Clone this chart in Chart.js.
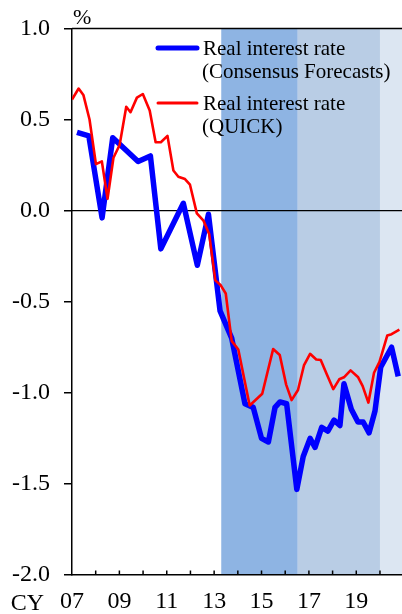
<!DOCTYPE html>
<html><head><meta charset="utf-8">
<script src="https://cdn.jsdelivr.net/npm/chart.js@4"></script>
<style>html,body{margin:0;padding:0;background:#fff;}#wrap{position:relative;width:402px;height:614px;}</style>
</head><body><div id="wrap"><canvas id="c" width="402" height="614"></canvas></div>
<script>
// Real interest rate (Consensus Forecasts) : decimal year / value (%)
const ccfYears  = [2007.21, 2007.71, 2008.27, 2008.72, 2009.79, 2010.31, 2010.75, 2011.70, 2012.29, 2012.76,
                   2013.25, 2013.74, 2014.30, 2014.65, 2015.00, 2015.29, 2015.57, 2015.78, 2016.06, 2016.49,
                   2016.76, 2017.05, 2017.26, 2017.54, 2017.80, 2018.06, 2018.31, 2018.48, 2018.79, 2019.07,
                   2019.29, 2019.54, 2019.79, 2020.03, 2020.49, 2020.77];
const ccfValues = [0.43, 0.41, -0.04, 0.40, 0.27, 0.30, -0.21, 0.04, -0.30, -0.02,
                   -0.55, -0.70, -1.06, -1.08, -1.25, -1.27, -1.08, -1.05, -1.06, -1.53,
                   -1.35, -1.25, -1.30, -1.19, -1.21, -1.15, -1.18, -0.95, -1.09, -1.16,
                   -1.16, -1.22, -1.10, -0.86, -0.75, -0.91];
// Real interest rate (QUICK)
const quickYears  = [2007.00, 2007.28, 2007.48, 2007.74, 2008.01, 2008.26, 2008.50, 2008.75, 2009.01, 2009.29,
                     2009.47, 2009.74, 2009.99, 2010.28, 2010.53, 2010.75, 2011.03, 2011.28, 2011.49, 2011.77,
                     2011.98, 2012.27, 2012.55, 2012.79, 2013.05, 2013.28, 2013.49, 2013.74, 2014.02, 2014.50,
                     2015.03, 2015.49, 2015.77, 2016.04, 2016.27, 2016.54, 2016.79, 2017.05, 2017.31, 2017.50,
                     2017.75, 2018.03, 2018.28, 2018.48, 2018.76, 2019.08, 2019.27, 2019.51, 2019.75, 2019.98,
                     2020.31, 2020.49, 2020.82];
const quickValues = [0.61, 0.67, 0.635, 0.50, 0.255, 0.27, 0.065, 0.29, 0.36, 0.57,
                     0.54, 0.62, 0.64, 0.55, 0.375, 0.375, 0.41, 0.22, 0.186, 0.173,
                     0.142, -0.015, -0.055, -0.128, -0.383, -0.41, -0.455, -0.715, -0.762, -1.07,
                     -1.005, -0.76, -0.793, -0.955, -1.04, -0.985, -0.85, -0.786, -0.817, -0.82,
                     -0.897, -0.98, -0.926, -0.915, -0.877, -0.915, -0.963, -1.054, -0.89, -0.83,
                     -0.685, -0.678, -0.653];
const xLabelYears = [2007, 2009, 2011, 2013, 2015, 2017, 2019];
const xLabels = ['07', '09', '11', '13', '15', '17', '19'];
const xPrefix = 'CY';
const yUnit = '%';
const bandStarts = [2013.30, 2016.53, 2020.00];
const bandEnds   = [2016.53, 2020.00, 2020.93];
const seriesNames = [['Real interest rate', '(Consensus Forecasts)'], ['Real interest rate', '(QUICK)']];

const FONT = "'Liberation Serif', 'Times New Roman', serif";
const bandColors = ['#8EB4E3', '#B9CDE5', '#DCE6F2'];

const deco = {
  id: 'deco',
  beforeDraw(chart) {
    const {ctx, chartArea: a, scales: {x}} = chart;
    ctx.save();
    bandStarts.forEach((s, i) => {
      const x0 = x.getPixelForValue(s), x1 = Math.min(x.getPixelForValue(bandEnds[i]), a.right);
      ctx.fillStyle = bandColors[i];
      ctx.fillRect(x0, a.top, x1 - x0, a.bottom - a.top);
    });
    ctx.restore();
  },
  beforeDatasetsDraw(chart) {
    const {ctx, chartArea: a, scales: {x, y}} = chart;
    ctx.save();
    ctx.strokeStyle = '#000';
    ctx.lineWidth = 1.3;
    const y0 = y.getPixelForValue(0);
    ctx.beginPath(); ctx.moveTo(a.left, y0); ctx.lineTo(a.right, y0); ctx.stroke();
    ctx.lineWidth = 1.5;
    const yt = y.getPixelForValue(1);
    ctx.beginPath(); ctx.moveTo(a.left, yt); ctx.lineTo(a.right, yt); ctx.stroke();
    x.ticks.forEach(t => {
      if (!Number.isInteger(t.value) || t.value <= x.min) return;
      const px = x.getPixelForValue(t.value);
      ctx.beginPath(); ctx.moveTo(px, a.bottom); ctx.lineTo(px, a.bottom - 4.5); ctx.stroke();
    });
    ctx.restore();
  },
  afterDraw(chart) {
    const {ctx} = chart;
    ctx.save();
    ctx.fillStyle = '#000';
    ctx.font = '22px ' + FONT;
    ctx.textBaseline = 'alphabetic';
    ctx.textAlign = 'left';
    ctx.fillText(yUnit, 73, 24);
    ctx.font = '24px ' + FONT;
    ctx.textAlign = 'right';
    ctx.textBaseline = 'middle';
    ctx.fillText(xPrefix, 44, 603.5);
    // legend
    const items = [{c: '#0000FF', w: 5, y: 48}, {c: '#FF0000', w: 3, y: 103}];
    ctx.font = '21px ' + FONT;
    ctx.textAlign = 'left';
    ctx.textBaseline = 'alphabetic';
    items.forEach((it, i) => {
      ctx.strokeStyle = it.c; ctx.lineWidth = it.w; ctx.lineCap = 'round';
      ctx.beginPath(); ctx.moveTo(158, it.y); ctx.lineTo(197, it.y); ctx.stroke();
      ctx.fillText(seriesNames[i][0], 203, it.y + 7);
      ctx.fillText(seriesNames[i][1], 202, it.y + 30);
    });
    ctx.restore();
  }
};

new Chart(document.getElementById('c'), {
  type: 'line',
  data: {
    datasets: [
      {label: seriesNames[1].join(' '), data: quickYears.map((t, i) => ({x: t, y: quickValues[i]})),
       borderColor: '#FF0000', borderWidth: 2.6, pointRadius: 0, tension: 0, borderJoinStyle: 'round'},
      {label: seriesNames[0].join(' '), data: ccfYears.map((t, i) => ({x: t, y: ccfValues[i]})),
       borderColor: '#0000FF', borderWidth: 5.5, pointRadius: 0, tension: 0, borderJoinStyle: 'round'}
    ]
  },
  options: {
    responsive: false, animation: false, devicePixelRatio: 1,
    layout: {padding: {top: 27, right: 0, left: 0, bottom: 0}},
    plugins: {legend: {display: false}, tooltip: {enabled: false}},
    scales: {
      x: {
        type: 'linear', min: 2007, max: 2020.93,
        afterFit(s) { s.height = 39; },
        grid: {display: false},
        border: {display: true, color: '#000', width: 1.5},
        ticks: {
          stepSize: 1, includeBounds: false, autoSkip: false, maxRotation: 0, padding: 4,
          color: '#000', font: {family: FONT, size: 24},
          callback: v => { const k = xLabelYears.indexOf(v); return k >= 0 ? xLabels[k] : ''; }
        }
      },
      y: {
        min: -2, max: 1,
        afterFit(s) { s.width = 72; },
        grid: {drawOnChartArea: false, drawTicks: true, tickLength: 8, color: '#000', lineWidth: 1.5},
        border: {display: true, color: '#000', width: 1.5},
        ticks: {stepSize: 0.5, padding: 14, color: '#000', font: {family: FONT, size: 24},
          callback: v => v.toFixed(1)}
      }
    }
  },
  plugins: [deco]
});
</script></body></html>
